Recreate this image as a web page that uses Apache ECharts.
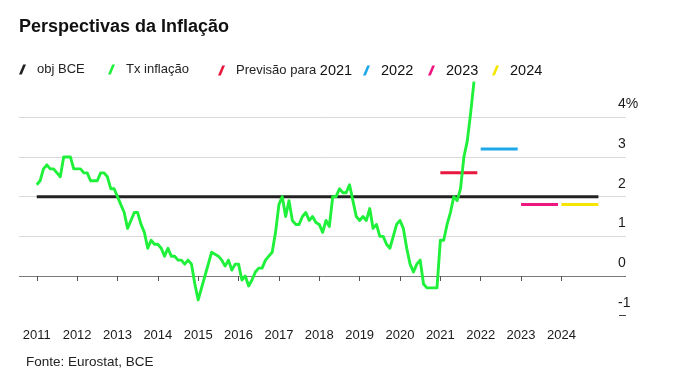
<!DOCTYPE html>
<html><head><meta charset="utf-8">
<script src="https://cdn.jsdelivr.net/npm/echarts@6/dist/echarts.min.js"></script>
<style>html,body{margin:0;padding:0;background:#fff}#c{width:680px;height:378px}</style>
</head><body><div id="c"></div>
<script>
const titleText = 'Perspectivas da Inflação';
const sourceText = 'Fonte: Eurostat, BCE';
const firstYear = 2011; // first value = January 2011, monthly
const inflation = [
  2.3, 2.4, 2.7, 2.8, 2.7, 2.7, 2.6, 2.5, 3.0, 3.0, 3.0, 2.7,
  2.7, 2.7, 2.6, 2.6, 2.4, 2.4, 2.4, 2.6, 2.6, 2.5, 2.2, 2.2,
  2.0, 1.8, 1.6, 1.2, 1.4, 1.6, 1.6, 1.3, 1.1, 0.7, 0.9, 0.8,
  0.8, 0.7, 0.5, 0.7, 0.5, 0.5, 0.4, 0.4, 0.3, 0.4, 0.3, -0.2,
  -0.6, -0.3, 0.0, 0.3, 0.6, 0.55, 0.5, 0.4, 0.25, 0.4, 0.15, 0.3,
  0.3, -0.1, 0.0, -0.25, -0.1, 0.1, 0.2, 0.2, 0.4, 0.5, 0.6, 1.1,
  1.8, 2.0, 1.5, 1.9, 1.4, 1.3, 1.3, 1.5, 1.6, 1.4, 1.5, 1.35,
  1.3, 1.1, 1.4, 1.25, 2.0, 2.0, 2.2, 2.1, 2.1, 2.3, 1.9, 1.5,
  1.4, 1.5, 1.4, 1.7, 1.2, 1.3, 1.0, 1.0, 0.8, 0.7, 1.0, 1.3,
  1.4, 1.2, 0.7, 0.3, 0.1, 0.3, 0.4, -0.2, -0.3, -0.3, -0.3, -0.3,
  0.9, 0.9, 1.3, 1.6, 2.0, 1.9, 2.2, 3.0, 3.4, 4.1, 4.9
];
const targetName = 'obj BCE';
const inflationName = 'Tx inflação';
const targetValue = 2;
const targetYears = [2011, 2024];
const forecastNames = ['Previsão para 2021', '2022', '2023', '2024'];
const forecastYears = [2021, 2022, 2023, 2024];
const forecastValues = [2.6, 3.2, 1.8, 1.8];
const xTickValues = [2011, 2012, 2013, 2014, 2015, 2016, 2017, 2018, 2019, 2020, 2021, 2022, 2023, 2024];
const xTickLabels = ['2011', '2012', '2013', '2014', '2015', '2016', '2017', '2018', '2019', '2020', '2021', '2022', '2023', '2024'];
const yTickValues = [-1, 0, 1, 2, 3, 4];
const yTickLabels = ['-1', '0', '1', '2', '3', '4%'];

const FONT = "'Liberation Sans', Arial, sans-serif";
const colors = {
  target: '#222222', infl: '#1ff03a',
  f: ['#e8173e', '#1fa8e8', '#ee1782', '#f4e600']
};
const slash = 'path://M0,10 L4.2,0 L7,0 L2.8,10 Z';

const series = [];
series.push({
  name: targetName, type: 'line', showSymbol: false, symbol: 'none',
  data: [[targetYears[0], targetValue], [targetYears[1] + 11 / 12, targetValue]],
  lineStyle: { color: colors.target, width: 3, cap: 'butt' },
  itemStyle: { color: colors.target }, z: 2, silent: true
});
forecastNames.forEach((n, i) => {
  series.push({
    name: n, type: 'line', showSymbol: false, symbol: 'none',
    data: [[forecastYears[i], forecastValues[i]], [forecastYears[i] + 11 / 12, forecastValues[i]]],
    lineStyle: { color: colors.f[i], width: 3, cap: 'butt' },
    itemStyle: { color: colors.f[i] }, z: 3, silent: true
  });
});
series.push({
  name: inflationName, type: 'line', showSymbol: false, symbol: 'none',
  data: inflation.map((v, i) => [firstYear + i / 12, v]),
  lineStyle: { color: colors.infl, width: 2.9, join: 'round' },
  itemStyle: { color: colors.infl }, z: 4, silent: true
});

const legendLefts = [19, 108, 218, 363, 428, 492];
const legendNames = [targetName, inflationName].concat(forecastNames);
const legends = legendNames.map((n, i) => ({
  data: [n], left: legendLefts[i], top: 63, padding: 0,
  icon: slash, itemWidth: 7, itemHeight: 10, selectedMode: false,
  formatter: (name) => {
    if (name.indexOf('Previsão') === 0) return '{n|Previsão para }{y|' + name.slice(-4) + '}';
    if (/^\d{4}$/.test(name)) return '{y|' + name + '}';
    return name;
  },
  textStyle: {
    fontFamily: FONT, fontSize: 13, color: '#222', padding: [0, 0, 0, 6],
    rich: {
      n: { fontFamily: FONT, fontSize: 13, color: '#222' },
      y: { fontFamily: FONT, fontSize: 14.5, color: '#111' }
    }
  }
}));

const chart = echarts.init(document.getElementById('c'), null, { renderer: 'canvas' });
chart.setOption({
  animation: false,
  backgroundColor: '#fff',
  title: [
    { text: titleText, left: 19, top: 18, padding: 0,
      textStyle: { fontFamily: FONT, fontSize: 18, fontWeight: 'bold', color: '#111' } },
    { text: sourceText, left: 26, top: 355, padding: 0,
      textStyle: { fontFamily: FONT, fontSize: 13.5, fontWeight: 'normal', color: '#222' } }
  ],
  legend: legends,
  grid: { left: 19, right: 54, top: 77.6, bottom: 62.3, containLabel: false },
  xAxis: {
    type: 'value', min: 2010.56, max: 2025.6,
    axisLine: { show: false },
    splitLine: { show: false },
    axisTick: { show: true, customValues: xTickValues, length: 5, lineStyle: { color: '#555', width: 1 } },
    axisLabel: {
      customValues: xTickValues, margin: 13,
      formatter: (v) => xTickLabels[xTickValues.indexOf(v)] || '',
      fontFamily: FONT, fontSize: 13, color: '#1a1a1a'
    }
  },
  yAxis: [{
    type: 'value', min: -1, max: 5, interval: 1, position: 'right',
    axisLine: { show: false },
    axisTick: { show: false },
    splitLine: { show: true, lineStyle: { width: 1,
      color: ['rgba(0,0,0,0)', '#7a7a7a', '#d9d9d9', '#d9d9d9', '#d9d9d9', '#d9d9d9', 'rgba(0,0,0,0)'] } },
    axisLabel: {
      margin: -8, align: 'left', verticalAlign: 'bottom', lineHeight: 14, padding: [0, 0, 6, 0],
      formatter: (v) => { const k = yTickValues.indexOf(v); return k >= 0 ? yTickLabels[k] : ''; },
      fontFamily: FONT, fontSize: 14, color: '#1a1a1a'
    }
  }, {
    type: 'value', min: -1, max: 5, interval: 1, position: 'right',
    axisLine: { show: false }, splitLine: { show: false }, axisLabel: { show: false },
    axisTick: { show: true, customValues: [-1], inside: true, length: 7, lineStyle: { color: '#444', width: 1 } }
  }],
  series: series
});
</script></body></html>
